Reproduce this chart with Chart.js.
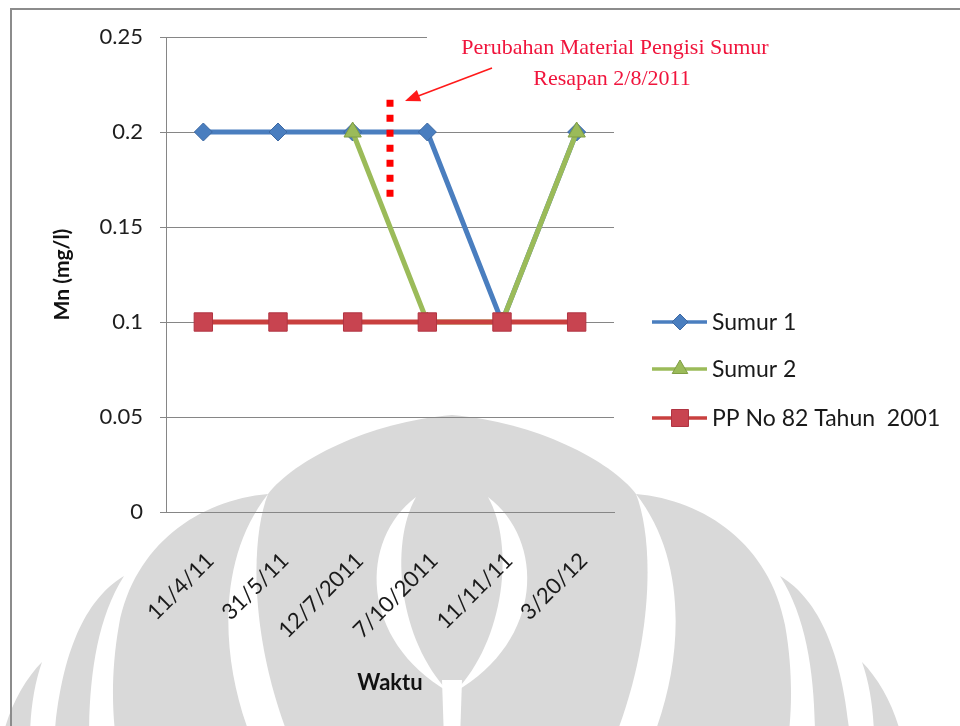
<!DOCTYPE html>
<html>
<head>
<meta charset="utf-8">
<script src="https://cdn.jsdelivr.net/npm/chart.js@4.4.1/dist/chart.umd.min.js"></script>
<style>
  html, body { margin: 0; padding: 0; background: #ffffff; }
  #wrap { width: 960px; height: 726px; position: relative; }
</style>
</head>
<body>
<div id="wrap"><canvas id="chart" width="960" height="726"></canvas></div>
<script>
// ---- data ----
const categories = ['11/4/11', '31/5/11', '12/7/2011', '7/10/2011', '11/11/11', '3/20/12'];
const sumur1 = [0.2, 0.2, 0.2, 0.2, 0.1, 0.2];
const sumur2 = [null, null, 0.2, 0.1, 0.1, 0.2];
const ppNo82 = [0.1, 0.1, 0.1, 0.1, 0.1, 0.1];
const seriesNames = ['Sumur 1', 'Sumur 2', 'PP No 82 Tahun  2001'];
const yTickLabels = ['0', '0.05', '0.1', '0.15', '0.2', '0.25'];
const noteLines = ['Perubahan Material Pengisi Sumur', 'Resapan 2/8/2011'];
const notePosition = 2.5;          // 2/8/2011 lies between 12/7/2011 and 7/10/2011
const noteRange = [0.164, 0.217];  // extent of the dotted marker on the value axis

// ---- styles ----
const BLUE = { line: '#4A7EBF', fill: '#4A7EBF', edge: '#3D69A3' };
const GREEN = { line: '#9BBB59', fill: '#9BBB59', edge: '#809E44' };
const RED = { line: '#C9403F', fill: '#C84450', edge: '#B03442' };
const GRID = '#868686';
const FONT = 'Lato, "Open Sans", sans-serif';

function marker(ctx, style, x, y, r, c) {
  ctx.save();
  ctx.fillStyle = c.fill;
  ctx.strokeStyle = c.edge;
  ctx.lineWidth = 1;
  ctx.beginPath();
  if (style === 'rectRot') {
    ctx.moveTo(x, y - r); ctx.lineTo(x + r, y); ctx.lineTo(x, y + r); ctx.lineTo(x - r, y);
  } else if (style === 'triangle') {
    const h = r * Math.sqrt(3) / 2;
    ctx.moveTo(x, y - r); ctx.lineTo(x + h, y + r / 2); ctx.lineTo(x - h, y + r / 2);
  } else {
    const s = r * Math.SQRT1_2;
    ctx.rect(x - s, y - s, 2 * s, 2 * s);
  }
  ctx.closePath();
  ctx.fill();
  ctx.stroke();
  ctx.restore();
}

// light grey emblem behind the chart
function emblem(ctx) {
  const shade = '#d9d9d9';
  const C = 904; // mirror axis doubled (x = 452)
  function shape(pts, mirror, color) {
    const X = v => (mirror ? C - v : v);
    ctx.fillStyle = color;
    ctx.beginPath();
    ctx.moveTo(X(pts[0][0]), pts[0][1]);
    for (let k = 1; k < pts.length; k++) {
      const p = pts[k];
      if (p.length === 2) ctx.lineTo(X(p[0]), p[1]);
      else ctx.bezierCurveTo(X(p[0]), p[1], X(p[2]), p[3], X(p[4]), p[5]);
    }
    ctx.closePath();
    ctx.fill();
  }
  ctx.save();
  // central dome
  shape([[452, 415], [535, 422, 610, 460, 636, 494], [654, 540, 654, 640, 614, 740],
         [290, 740], [250, 640, 250, 540, 268, 494], [294, 460, 369, 422, 452, 415]], false, shade);
  // side petals
  const petals = [
    [[636, 494], [705, 500, 770, 545, 785, 625], [793, 670, 792, 710, 788, 740], [652, 740], [684, 660, 688, 560, 636, 494]],
    [[780, 576], [812, 595, 842, 640, 850, 740], [815, 740], [815, 680, 808, 620, 780, 576]],
    [[862, 662], [880, 680, 896, 710, 902, 740], [874, 740], [874, 712, 870, 685, 862, 662]]
  ];
  petals.forEach(p => { shape(p, false, shade); shape(p, true, shade); });
  // inner leaf outline
  const leaf = [[488, 497], [545, 540, 545, 640, 455, 692], [505, 640, 515, 545, 488, 497]];
  shape(leaf, false, '#ffffff');
  shape(leaf, true, '#ffffff');
  shape([[442, 680], [462, 680], [460, 740], [444, 740]], false, '#ffffff');
  ctx.restore();
}

const backdrop = {
  id: 'backdrop',
  beforeDraw(chart) {
    const ctx = chart.ctx;
    ctx.save();
    ctx.fillStyle = '#ffffff';
    ctx.fillRect(0, 0, chart.width, chart.height);
    emblem(ctx);
    // outer frame
    ctx.strokeStyle = '#8c8c8c';
    ctx.lineWidth = 2;
    ctx.beginPath();
    ctx.moveTo(11, chart.height);
    ctx.lineTo(11, 9);
    ctx.lineTo(chart.width, 9);
    ctx.stroke();
    ctx.restore();
  }
};

const annotation = {
  id: 'annotation',
  beforeDatasetsDraw(chart) {
    // white text box of the note
    const ctx = chart.ctx;
    ctx.save();
    ctx.fillStyle = '#ffffff';
    ctx.fillRect(427, 26, 380, 66);
    ctx.restore();
  },
  afterDatasetsDraw(chart) {
    const ctx = chart.ctx;
    const xs = chart.scales.x, ys = chart.scales.y;
    ctx.save();
    // dotted marker
    const px = xs.getPixelForValue(notePosition);
    ctx.strokeStyle = '#ff0000';
    ctx.lineWidth = 7;
    ctx.setLineDash([7, 8]);
    ctx.beginPath();
    ctx.moveTo(px, ys.getPixelForValue(noteRange[1]));
    ctx.lineTo(px, ys.getPixelForValue(noteRange[0]));
    ctx.stroke();
    ctx.setLineDash([]);
    // arrow
    const ax0 = 492, ay0 = 68, ax1 = px + 15, ay1 = 101;
    const ang = Math.atan2(ay1 - ay0, ax1 - ax0);
    ctx.strokeStyle = '#ff1a1a';
    ctx.fillStyle = '#ff1a1a';
    ctx.lineWidth = 1.6;
    ctx.beginPath();
    ctx.moveTo(ax0, ay0);
    ctx.lineTo(ax1 - 12 * Math.cos(ang), ay1 - 12 * Math.sin(ang));
    ctx.stroke();
    ctx.beginPath();
    ctx.moveTo(ax1, ay1);
    ctx.lineTo(ax1 - 15 * Math.cos(ang) + 6 * Math.sin(ang), ay1 - 15 * Math.sin(ang) - 6 * Math.cos(ang));
    ctx.lineTo(ax1 - 15 * Math.cos(ang) - 6 * Math.sin(ang), ay1 - 15 * Math.sin(ang) + 6 * Math.cos(ang));
    ctx.closePath();
    ctx.fill();
    // note text
    ctx.fillStyle = '#f0143c';
    ctx.font = '22px "Liberation Serif", "DejaVu Serif", serif';
    ctx.textAlign = 'center';
    ctx.textBaseline = 'middle';
    ctx.fillText(noteLines[0], 615, 48);
    ctx.fillText(noteLines[1], 612, 79);
    ctx.restore();
  },
  afterDraw(chart) {
    const ctx = chart.ctx;
    const xs = chart.scales.x;
    ctx.save();
    // category labels, rotated
    ctx.fillStyle = '#1a1a1a';
    ctx.font = '22px ' + FONT;
    ctx.textAlign = 'right';
    ctx.textBaseline = 'middle';
    categories.forEach((lab, i) => {
      const px = xs.getPixelForValue(i);
      ctx.save();
      ctx.translate(px + 7, xs.top + 45);
      ctx.rotate(-Math.PI / 4);
      ctx.fillText(lab, 0, 0);
      ctx.restore();
    });
    // legend
    const items = [
      { name: seriesNames[0], c: BLUE, style: 'rectRot', r: 8 },
      { name: seriesNames[1], c: GREEN, style: 'triangle', r: 9 },
      { name: seriesNames[2], c: RED, style: 'rect', r: 12 }
    ];
    const rowY = [322, 369, 418];
    items.forEach((it, k) => {
      const y = rowY[k];
      ctx.strokeStyle = it.c.line;
      ctx.lineWidth = 3.5;
      ctx.beginPath();
      ctx.moveTo(652, y);
      ctx.lineTo(707, y);
      ctx.stroke();
      marker(ctx, it.style, 680, y, it.r, it.c);
      ctx.fillStyle = '#1a1a1a';
      ctx.font = '23px ' + FONT;
      ctx.textAlign = 'left';
      ctx.textBaseline = 'middle';
      ctx.fillText(it.name, 712, y + 1);
    });
    ctx.restore();
  }
};

function series(name, data, c, style, r, order) {
  return {
    label: name, data: data, order: order,
    borderColor: c.line, backgroundColor: c.fill, borderWidth: 5,
    pointStyle: style, pointRadius: r, pointHoverRadius: r,
    pointBackgroundColor: c.fill, pointBorderColor: c.edge, pointBorderWidth: 1,
    tension: 0, spanGaps: false, fill: false
  };
}

new Chart(document.getElementById('chart'), {
  type: 'line',
  data: {
    labels: categories,
    datasets: [
      series(seriesNames[0], sumur1, BLUE, 'rectRot', 9, 2),
      series(seriesNames[1], sumur2, GREEN, 'triangle', 10, 1),
      series(seriesNames[2], ppNo82, RED, 'rect', 13, 0)
    ]
  },
  options: {
    responsive: false,
    animation: false,
    devicePixelRatio: 1,
    layout: { padding: { left: 0, top: 37, right: 346, bottom: 0 } },
    plugins: { legend: { display: false }, tooltip: { enabled: false } },
    scales: {
      x: {
        offset: true,
        grid: { display: false },
        border: { color: GRID, width: 1 },
        ticks: { display: false },
        afterFit(s) { s.height = 214; },
        title: {
          display: true, text: 'Waktu', color: '#111111',
          font: { family: FONT, size: 22, weight: 'bold' },
          padding: { top: 0, bottom: 30 }
        }
      },
      y: {
        min: 0, max: 0.25,
        ticks: {
          stepSize: 0.05, padding: 17, color: '#1e1e1e',
          font: { family: FONT, size: 22 },
          callback: (v, i) => yTickLabels[i]
        },
        grid: { color: GRID, lineWidth: 1, tickLength: 6 },
        border: { color: GRID, width: 1 },
        afterFit(s) { s.width = 166; },
        title: {
          display: true, text: 'Mn (mg/l)', color: '#111111',
          font: { family: FONT, size: 21, weight: 'bold' },
          padding: { top: 50, bottom: 0 }
        }
      }
    }
  },
  plugins: [backdrop, annotation]
});
</script>
</body>
</html>
